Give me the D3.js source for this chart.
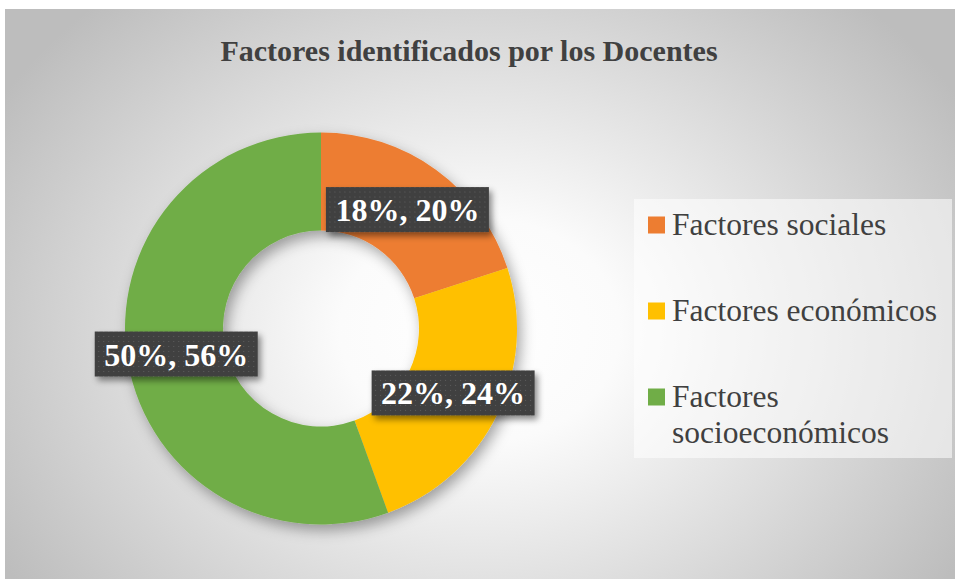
<!DOCTYPE html>
<html>
<head>
<meta charset="utf-8">
<script src="https://cdn.jsdelivr.net/npm/d3@7"></script>
<style>
html,body{margin:0;padding:0;background:#fff;}
svg{display:block;}
.serif{font-family:"Liberation Serif","Tinos","Times New Roman","DejaVu Serif",serif;}
</style>
</head>
<body>
<svg id="chart" width="955" height="579"></svg>
<script>
const title = "Factores identificados por los Docentes";
const categories = ["Factores sociales", "Factores económicos", "Factores socioeconómicos"];
const values = [18, 22, 50];
const percents = [20, 24, 56];
const colors = ["#ED7D31", "#FFC000", "#70AD47"];
const legendLines = [["Factores sociales"], ["Factores económicos"], ["Factores", "socioeconómicos"]];

const W = 955, H = 579;
const svg = d3.select("#chart");
const defs = svg.append("defs");

// background gradient
const rg = defs.append("radialGradient").attr("id", "bg")
  .attr("gradientUnits", "userSpaceOnUse")
  .attr("cx", 480).attr("cy", 330).attr("r", 560)
  .attr("gradientTransform", "translate(480,330) scale(1,0.8) translate(-480,-330)");
rg.append("stop").attr("offset", 0).attr("stop-color", "#ffffff");
rg.append("stop").attr("offset", 0.25).attr("stop-color", "#fbfbfb");
rg.append("stop").attr("offset", 1).attr("stop-color", "#bdbdbd");

// donut shadow
const f = defs.append("filter").attr("id", "shadow")
  .attr("x", "-20%").attr("y", "-20%").attr("width", "140%").attr("height", "140%");
f.append("feDropShadow").attr("dx", 4).attr("dy", 6).attr("stdDeviation", 7)
  .attr("flood-color", "#000").attr("flood-opacity", 0.35);

const f2 = defs.append("filter").attr("id", "lshadow")
  .attr("x", "-20%").attr("y", "-30%").attr("width", "140%").attr("height", "170%");
f2.append("feDropShadow").attr("dx", 3).attr("dy", 4).attr("stdDeviation", 3)
  .attr("flood-color", "#000").attr("flood-opacity", 0.45);

// dotted pattern for label boxes
const pat = defs.append("pattern").attr("id", "dots")
  .attr("patternUnits", "userSpaceOnUse").attr("width", 5).attr("height", 5);
pat.append("rect").attr("width", 5).attr("height", 5).attr("fill", "#404040");
pat.append("rect").attr("x", 2).attr("y", 2).attr("width", 1).attr("height", 1).attr("fill", "#5e5e5e");

// background
svg.append("rect").attr("x", 5).attr("y", 9).attr("width", W - 5).attr("height", H - 9)
  .attr("fill", "url(#bg)");

// title
svg.append("text")
  .attr("class", "serif")
  .attr("x", 469).attr("y", 61)
  .attr("text-anchor", "middle")
  .attr("font-weight", "bold")
  .attr("font-size", 30)
  .attr("fill", "#404040")
  .text(title);

// donut
const cx = 321, cy = 328.5, R = 196, r = 98;
const pie = d3.pie().sort(null).value(d => d)(values);
const arc = d3.arc().innerRadius(r).outerRadius(R);
const g = svg.append("g").attr("transform", `translate(${cx},${cy})`);
g.append("g").attr("filter", "url(#shadow)")
  .selectAll("path").data(pie).join("path")
  .attr("d", arc)
  .attr("fill", (d, i) => colors[i]);

// labels
const fmt = d3.format("d");
pie.forEach((d, i) => {
  const [lx, ly] = arc.centroid(d);
  const lg = g.append("g").attr("transform", `translate(${lx},${ly})`);
  const rect = lg.append("rect").attr("fill", "url(#dots)").attr("filter", "url(#lshadow)");
  const t = lg.append("text")
    .attr("class", "serif")
    .attr("text-anchor", "middle")
    .attr("y", 11.5)
    .attr("font-weight", "bold")
    .attr("font-size", 32)
    .attr("fill", "#ffffff")
    .text(`${fmt(values[i])}%, ${fmt(percents[i])}%`);
  const bw = t.node().getComputedTextLength() + 19;
  rect.attr("x", -bw / 2).attr("y", -22.5).attr("width", bw).attr("height", 45);
});

// legend
svg.append("rect").attr("x", 634).attr("y", 199).attr("width", 318).attr("height", 259)
  .attr("fill", "#ffffff").attr("fill-opacity", 0.55);
const leg = svg.append("g");
const baselines = [234.5, 320.5, 406.5];
categories.forEach((c, i) => {
  leg.append("rect").attr("x", 648).attr("y", baselines[i] - 18)
    .attr("width", 17).attr("height", 17).attr("fill", colors[i]);
  const t = leg.append("text")
    .attr("class", "serif")
    .attr("font-size", 31.5)
    .attr("fill", "#404040");
  legendLines[i].forEach((ln, j) => {
    t.append("tspan").attr("x", 672).attr("y", baselines[i] + j * 36.5).text(ln);
  });
});
</script>
</body>
</html>
